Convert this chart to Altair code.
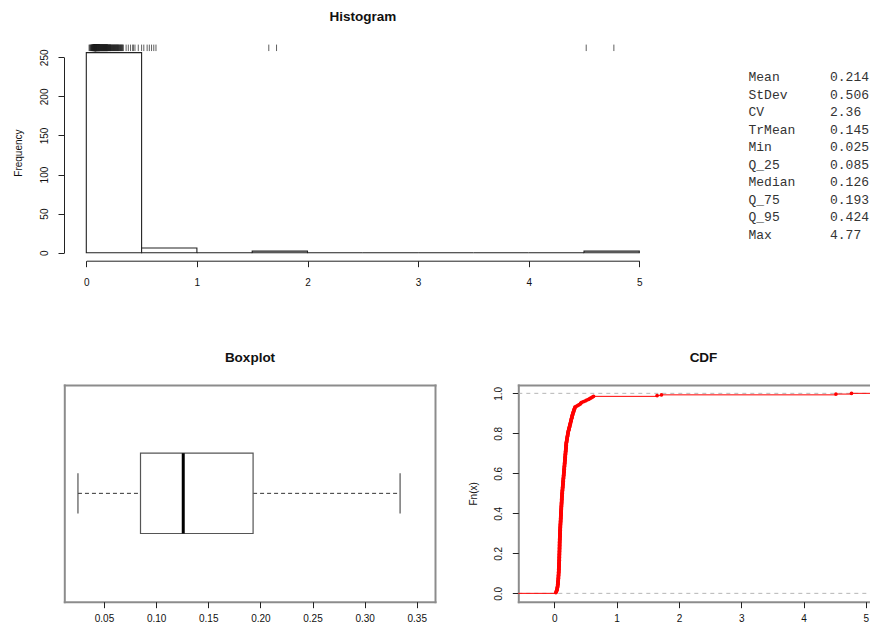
import altair as alt
import pandas as pd

W, H = 862, 616
SANS = "Liberation Sans"
MONO = "Liberation Mono"

# ---------------- data ----------------
bin_start = [0.0, 0.5, 1.0, 1.5, 2.0, 2.5, 3.0, 3.5, 4.0, 4.5]
bin_end = [0.5, 1.0, 1.5, 2.0, 2.5, 3.0, 3.5, 4.0, 4.5, 5.0]
bin_count = [256, 6, 0, 2, 0, 0, 0, 0, 0, 2]

sample = [
    0.025, 0.031, 0.036, 0.040, 0.043, 0.046, 0.048, 0.050, 0.052, 0.054,
    0.055, 0.057, 0.058, 0.059, 0.060, 0.061, 0.062, 0.063, 0.064, 0.065,
    0.066, 0.066, 0.067, 0.068, 0.068, 0.069, 0.070, 0.070, 0.071, 0.072,
    0.072, 0.073, 0.073, 0.074, 0.074, 0.075, 0.075, 0.076, 0.076, 0.077,
    0.077, 0.078, 0.078, 0.079, 0.079, 0.079, 0.080, 0.080, 0.080, 0.081,
    0.081, 0.081, 0.082, 0.082, 0.082, 0.083, 0.083, 0.083, 0.084, 0.084,
    0.084, 0.084, 0.085, 0.085, 0.085, 0.085, 0.085,
    0.086, 0.086, 0.087, 0.087, 0.088, 0.088, 0.089, 0.089, 0.090, 0.090,
    0.091, 0.091, 0.092, 0.092, 0.093, 0.093, 0.094, 0.094, 0.095, 0.095,
    0.096, 0.097, 0.097, 0.098, 0.098, 0.099, 0.100, 0.100, 0.101, 0.101,
    0.102, 0.103, 0.103, 0.104, 0.104, 0.105, 0.106, 0.106, 0.107, 0.108,
    0.108, 0.109, 0.110, 0.110, 0.111, 0.112, 0.112, 0.113, 0.114, 0.114,
    0.115, 0.116, 0.116, 0.117, 0.118, 0.118, 0.119, 0.120, 0.120, 0.121,
    0.122, 0.122, 0.123, 0.124, 0.125, 0.126,
    0.127, 0.128, 0.129, 0.130, 0.131, 0.132, 0.133, 0.134, 0.135, 0.136,
    0.137, 0.138, 0.139, 0.140, 0.141, 0.142, 0.143, 0.144, 0.145, 0.146,
    0.147, 0.148, 0.149, 0.150, 0.151, 0.152, 0.153, 0.154, 0.155, 0.156,
    0.157, 0.158, 0.159, 0.160, 0.161, 0.162, 0.163, 0.164, 0.165, 0.166,
    0.167, 0.168, 0.169, 0.170, 0.171, 0.172, 0.173, 0.174, 0.175, 0.176,
    0.177, 0.178, 0.179, 0.180, 0.181, 0.182, 0.183, 0.184, 0.185, 0.186,
    0.187, 0.188, 0.189, 0.190, 0.191, 0.192, 0.193,
    0.195, 0.197, 0.199, 0.201, 0.203, 0.205, 0.207, 0.209, 0.211, 0.213,
    0.215, 0.217, 0.219, 0.221, 0.224, 0.227, 0.230, 0.233, 0.236, 0.239,
    0.242, 0.245, 0.248, 0.251, 0.254, 0.257, 0.260, 0.263, 0.266, 0.269,
    0.272, 0.275, 0.278, 0.281, 0.284, 0.287, 0.290, 0.293, 0.297, 0.301,
    0.305, 0.309, 0.313, 0.317, 0.321, 0.325, 0.330, 0.334,
    0.36, 0.38, 0.40, 0.42, 0.425, 0.44, 0.47, 0.50, 0.52, 0.55, 0.57, 0.59, 0.61, 0.63,
    1.65, 1.72, 4.52, 4.77,
]

stat_names = ["Mean", "StDev", "CV", "TrMean", "Min", "Q_25", "Median", "Q_75", "Q_95", "Max"]
stat_values = ["0.214", "0.506", "2.36", "0.145", "0.025", "0.085", "0.126", "0.193", "0.424", "4.77"]

box_low, box_q1, box_median, box_q3, box_high = 0.025, 0.085, 0.126, 0.193, 0.334

hist_x_ticks = [0, 1, 2, 3, 4, 5]
hist_y_ticks = [0, 50, 100, 150, 200, 250]
box_x_ticks = [0.05, 0.10, 0.15, 0.20, 0.25, 0.30, 0.35]
cdf_x_ticks = [0, 1, 2, 3, 4, 5]
cdf_y_ticks = [0.0, 0.2, 0.4, 0.6, 0.8, 1.0]

# ---------------- tables ----------------
hist_df = pd.DataFrame({"s": bin_start, "e": bin_end, "c": bin_count})
rug_df = pd.DataFrame({"v": sample})
svals = sorted(sample)
n = len(svals)
cdf_pts = pd.DataFrame({"x": svals, "y": [(i + 1) / n for i in range(n)]})
cdf_xlim = [-0.578, 5.37]
cdf_line = pd.DataFrame({"x": [cdf_xlim[0]] + svals + [cdf_xlim[1]],
                         "y": [0.0] + [(i + 1) / n for i in range(n)] + [1.0]})
stats_df = pd.DataFrame({"name": stat_names, "val": stat_values, "row": list(range(len(stat_names)))})
box_df = pd.DataFrame({"q1": [box_q1], "q3": [box_q3], "med": [box_median]})
whisk_df = pd.DataFrame({"a": [box_low, box_q3], "b": [box_q1, box_high]})
caps_df = pd.DataFrame({"a": [box_low, box_high]})
hlines_df = pd.DataFrame({"y": [0.0, 1.0]})

# ---------------- scales (panel regions) ----------------
hx = alt.Scale(domain=[0, 5], range=[78.3, 631.3], nice=False, zero=False)
hy = alt.Scale(domain=[0, 250], range=[244.7, 49.3], nice=False, zero=False)
bx = alt.Scale(domain=[0.0119, 0.3675], range=[56.3, 427.0], nice=False, zero=False)
by = alt.Scale(domain=[0.46, 1.54], range=[593.7, 377.0], nice=False, zero=False)
cx = alt.Scale(domain=cdf_xlim, range=[510.3, 880.9], nice=False, zero=False)
cy = alt.Scale(domain=[-0.0417, 1.0417], range=[593.7, 377.0], nice=False, zero=False)


def x_ticks_axis(offset, values, fmt=None, domain=False, pad=10.5):
    kw = dict(orient="bottom", offset=offset, values=values, domain=domain, domainColor="#222",
              domainWidth=1, ticks=True, tickSize=6, tickColor="#222", tickWidth=1,
              labelFont=SANS, labelFontSize=10, labelColor="#111", labelFlush=False,
              labelOverlap=False, labelAlign="center", labelBaseline="top", labelPadding=pad,
              grid=False, title=None)
    if fmt:
        kw["format"] = fmt
    return alt.Axis(**kw)


def y_ticks_axis(offset, values, title, title_x, title_y, fmt=None, domain=False):
    kw = dict(orient="left", offset=offset, values=values, domain=domain, domainColor="#222",
              domainWidth=1, ticks=True, tickSize=6, tickColor="#222", tickWidth=1,
              labelFont=SANS, labelFontSize=10, labelColor="#111", labelFlush=False,
              labelOverlap=False, labelAngle=-90, labelAlign="center", labelBaseline="alphabetic",
              labelPadding=11, grid=False, title=title, titleFont=SANS, titleFontSize=10,
              titleFontWeight="normal", titleColor="#111", titleAngle=270, titleAlign="center",
              titleBaseline="middle", titleX=title_x, titleY=title_y)
    if fmt:
        kw["format"] = fmt
    return alt.Axis(**kw)


def frame_axis(orient, offset):
    return alt.Axis(orient=orient, offset=offset, domain=True, domainColor="#8c8c8c",
                    domainWidth=2, domainCap="square", ticks=False, labels=False,
                    grid=False, title=None)


def title_text(label, x, y):
    return alt.Chart(pd.DataFrame({"t": [label]})).mark_text(
        font=SANS, fontSize=13.5, fontWeight="bold", color="#111", align="center",
        baseline="alphabetic").encode(x=alt.value(x), y=alt.value(y), text="t:N")


# ---------------- histogram ----------------
hist_bars = alt.Chart(hist_df).mark_rect(fill="white", stroke="#222", strokeWidth=1.1).encode(
    x=alt.X("s:Q", scale=hx, axis=x_ticks_axis(252.7 - H, hist_x_ticks, domain=True)),
    x2="e:Q",
    y=alt.Y("c:Q", scale=hy, axis=y_ticks_axis(-56, hist_y_ticks, "Frequency", -46, 144.6, domain=True)),
    y2=alt.Y2Datum(0),
)
hist_rug = alt.Chart(rug_df).mark_rule(color="#222", strokeWidth=0.9, opacity=0.8).encode(
    x=alt.X("v:Q", scale=hx, axis=None),
    y=alt.YDatum(266.24, type="quantitative", scale=hy, axis=None),
    y2=alt.Y2Datum(258),
)

# ---------------- stats table ----------------
row_scale = alt.Scale(domain=[0, 9], range=[73.3, 231.0], nice=False, zero=False)
stats_names = alt.Chart(stats_df).mark_text(font=MONO, fontSize=13, color="#333", align="left",
                                            baseline="alphabetic").encode(
    x=alt.value(740.5), y=alt.Y("row:Q", scale=row_scale, axis=None), text="name:N")
stats_vals = alt.Chart(stats_df).mark_text(font=MONO, fontSize=13, color="#333", align="left",
                                           baseline="alphabetic").encode(
    x=alt.value(822.0), y=alt.Y("row:Q", scale=row_scale, axis=None), text="val:N")

# ---------------- boxplot ----------------
dummy_box = pd.DataFrame({"fx": [0.2], "fy": [1.0]})
box_frame1 = alt.Chart(dummy_box).mark_point(opacity=0).encode(
    x=alt.X("fx:Q", scale=bx, axis=frame_axis("bottom", 593.7 - H)),
    y=alt.Y("fy:Q", scale=by, axis=frame_axis("left", -56.3)))
box_frame2 = alt.Chart(dummy_box).mark_point(opacity=0).encode(
    x=alt.X("fx:Q", scale=bx, axis=frame_axis("top", -377.0)),
    y=alt.Y("fy:Q", scale=by, axis=frame_axis("right", 427.0 - W)))
box_whiskers = alt.Chart(whisk_df).mark_rule(color="#333", strokeWidth=1, strokeDash=[4, 3]).encode(
    x=alt.X("a:Q", scale=bx, axis=None), x2="b:Q",
    y=alt.YDatum(1.0, type="quantitative", scale=by, axis=None))
box_caps = alt.Chart(caps_df).mark_rule(color="#444", strokeWidth=1.1).encode(
    x=alt.X("a:Q", scale=bx, axis=None),
    y=alt.YDatum(0.9, type="quantitative", scale=by, axis=None), y2=alt.Y2Datum(1.1))
box_rect = alt.Chart(box_df).mark_rect(fill="white", stroke="#555", strokeWidth=1.2).encode(
    x=alt.X("q1:Q", scale=bx, axis=x_ticks_axis(593.7 - H, box_x_ticks, fmt=".2f", pad=6)),
    x2="q3:Q",
    y=alt.YDatum(0.8, type="quantitative", scale=by, axis=None), y2=alt.Y2Datum(1.2))
box_med = alt.Chart(box_df).mark_rule(color="black", strokeWidth=3).encode(
    x=alt.X("med:Q", scale=bx, axis=None),
    y=alt.YDatum(0.8, type="quantitative", scale=by, axis=None), y2=alt.Y2Datum(1.2))

# ---------------- CDF ----------------
dummy_cdf = pd.DataFrame({"fx": [1.0], "fy": [0.5]})
cdf_frame1 = alt.Chart(dummy_cdf).mark_point(opacity=0).encode(
    x=alt.X("fx:Q", scale=cx, axis=frame_axis("bottom", 593.7 - H)),
    y=alt.Y("fy:Q", scale=cy, axis=frame_axis("left", -510.3)))
cdf_frame2 = alt.Chart(dummy_cdf).mark_point(opacity=0).encode(
    x=alt.X("fx:Q", scale=cx, axis=frame_axis("top", -377.0)),
    y=alt.Y("fy:Q", scale=cy, axis=None))
cdf_hl = alt.Chart(hlines_df).mark_rule(color="#b5b5b5", strokeWidth=1, strokeDash=[4, 4]).encode(
    x=alt.XDatum(cdf_xlim[0], type="quantitative", scale=cx, axis=None),
    x2=alt.X2Datum(cdf_xlim[1]),
    y=alt.Y("y:Q", scale=cy, axis=None))
cdf_step = alt.Chart(cdf_line).mark_line(color="red", strokeWidth=1, interpolate="step-after").encode(
    x=alt.X("x:Q", scale=cx, axis=None),
    y=alt.Y("y:Q", scale=cy, axis=None))
cdf_points = alt.Chart(cdf_pts).mark_circle(color="red", size=14, opacity=1).encode(
    x=alt.X("x:Q", scale=cx, axis=x_ticks_axis(593.7 - H, cdf_x_ticks, pad=6)),
    y=alt.Y("y:Q", scale=cy, axis=y_ticks_axis(-510.3, cdf_y_ticks, "Fn(x)", -45, 485.35, fmt=".1f")))

chart = alt.layer(
    hist_bars, hist_rug,
    stats_names, stats_vals,
    box_frame1, box_frame2, box_whiskers, box_caps, box_rect, box_med,
    cdf_frame1, cdf_frame2, cdf_hl, cdf_step, cdf_points,
    title_text("Histogram", 354.8, 12.7),
    title_text("Boxplot", 242.0, 354.3),
    title_text("CDF", 695.5, 354.3),
).resolve_scale(x="independent", y="independent").properties(
    width=W, height=H, padding=0, autosize=alt.AutoSizeParams(type="none")
).configure_view(stroke=None)

chart.save("out.html", embed_options={"renderer": "svg", "actions": False})
